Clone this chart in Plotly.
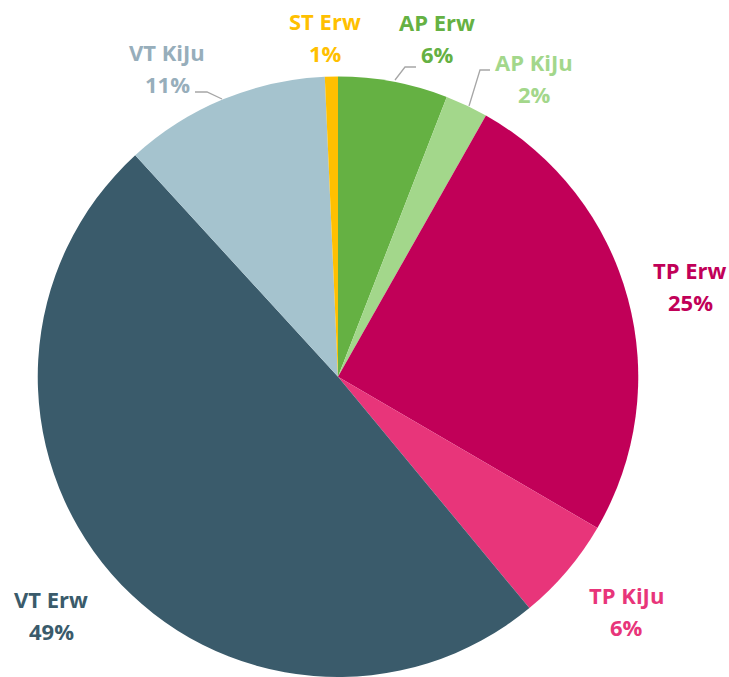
import plotly.graph_objects as go

# ---- data (clockwise from 12 o'clock) ----
labels = ["AP Erw", "AP KiJu", "TP Erw", "TP KiJu", "VT Erw", "VT KiJu", "ST Erw"]
values = [5.9, 2.3, 25.2, 5.6, 49.2, 11.1, 0.7]
slice_colors = ["#65B143", "#A3D78B", "#C10058", "#E8357A", "#3A5B6B", "#A5C3CE", "#FFC000"]
label_colors = ["#65B143", "#A3D78B", "#C10058", "#E8357A", "#3A5B6B", "#97AEBB", "#FFC000"]

W, H = 729, 677

def px(x):
    return x / W

def py(y):
    return 1 - y / H

# label positions (pixel centers of name line; percent line below)
label_pos = {
    "AP Erw": (437, 22),
    "AP KiJu": (534, 62),
    "TP Erw": (690, 270),
    "TP KiJu": (626, 595),
    "VT Erw": (51, 599),
    "VT KiJu": (167, 52),
    "ST Erw": (325, 21),
}
LINE_GAP = 32

total = sum(values)
pct_text = [f"{round(v / total * 100):d}%" for v in values]

fig = go.Figure()

# pie
cx, cy, r = 338, 377, 300.5
fig.add_trace(go.Pie(
    labels=labels,
    values=values,
    marker=dict(colors=slice_colors, line=dict(width=0)),
    sort=False,
    direction="clockwise",
    rotation=0,
    textinfo="none",
    hoverinfo="label+percent",
    showlegend=False,
    domain=dict(x=[px(cx - r), px(cx + r)], y=[max(0, py(cy + r)), py(cy - r)]),
))

annotations = []
for lab, pct, col in zip(labels, pct_text, label_colors):
    x, y = label_pos[lab]
    for txt, yy in ((lab, y), (pct, y + LINE_GAP)):
        annotations.append(dict(
            x=px(x), y=py(yy), xref="paper", yref="paper",
            text=txt, showarrow=False, xanchor="center", yanchor="middle",
            font=dict(family="Open Sans", size=22, color=col, weight="bold"),
        ))

# leader lines (pixel paths)
leaders = [
    [(195, 92), (207, 92), (222, 99)],     # VT KiJu
    [(416, 67), (405, 67), (395, 80)],     # AP Erw
    [(490, 70), (480, 70), (469, 106)],    # AP KiJu
]
shapes = []
for pts in leaders:
    path = "M " + " L ".join(f"{px(x)},{py(y)}" for x, y in pts)
    shapes.append(dict(type="path", xref="paper", yref="paper", path=path,
                       line=dict(color="#A6A6A6", width=1.3)))

fig.update_layout(
    width=W, height=H,
    margin=dict(l=0, r=0, t=0, b=0),
    paper_bgcolor="white", plot_bgcolor="white",
    annotations=annotations,
    shapes=shapes,
)

fig.write_html(
    "out.html",
    config={"displayModeBar": False},
    post_script="document.body.style.margin='0';document.body.style.overflow='hidden';",
)
